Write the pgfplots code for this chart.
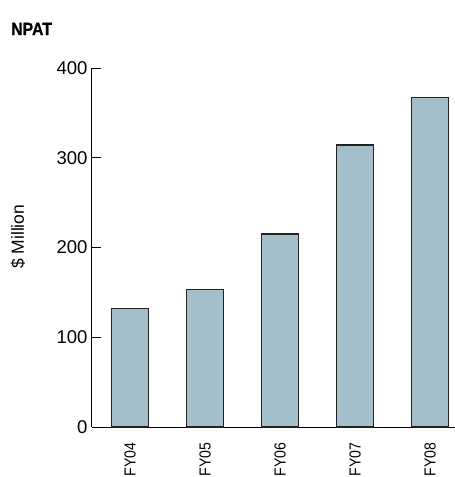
\documentclass[border=0pt]{standalone}
\usepackage{fontspec}
\setmainfont{Liberation Sans}
\newfontfamily\titlefont[FakeStretch=0.88,FakeBold=0.6]{Liberation Sans}
\newfontfamily\condfont[FakeStretch=0.88]{Liberation Sans}
\usepackage{pgfplots}
\pgfplotsset{compat=1.18}
\definecolor{barblue}{HTML}{A4BFCA}
\definecolor{barline}{HTML}{222222}
\begin{document}
\begin{tikzpicture}
  \begin{axis}[
      at={(0,0)}, anchor=south west,
      scale only axis,
      width=363pt, height=359pt,
      ybar, bar width=36.6pt,
      axis x line*=bottom, axis y line*=left,
      axis line style={line width=1pt},
      xmin=-0.507, xmax=4.333,
      ymin=0, ymax=400,
      ytick={0,100,200,300,400},
      xtick=data,
      xticklabels={FY04,FY05,FY06,FY07,FY08},
      x tick style={draw=none},
      y tick style={line width=1pt, black},
      major tick length=9pt,
      ytick align=inside,
      every non boxed y axis/.append style={ytick align=inside},
      /pgf/number format/assume math mode=true,
      yticklabel style={font=\fontsize{18.5}{20}\selectfont, xshift=-1pt},
      x tick label style={font=\condfont\fontsize{16}{18}\selectfont,
        rotate=90, anchor=east, xshift=-3pt},
      ylabel={\$ Million},
      ylabel style={font=\fontsize{17.5}{19}\selectfont,
        at={(axis description cs:-0.204,0.53)}, anchor=center},
    ]
    \addplot[fill=barblue, draw=barline, line width=1.5pt] coordinates {
      (0, 132)
      (1, 153)
      (2, 215)
      (3, 314)
      (4, 367)
    };
  \end{axis}
  \node[anchor=west, inner sep=0pt, font=\titlefont\bfseries\fontsize{18}{20}\selectfont]
    at (-81pt,398pt) {NPAT};
  \pgfresetboundingbox
  \path[use as bounding box] (-92pt,-50pt) rectangle (363pt,427pt);
\end{tikzpicture}
\end{document}
